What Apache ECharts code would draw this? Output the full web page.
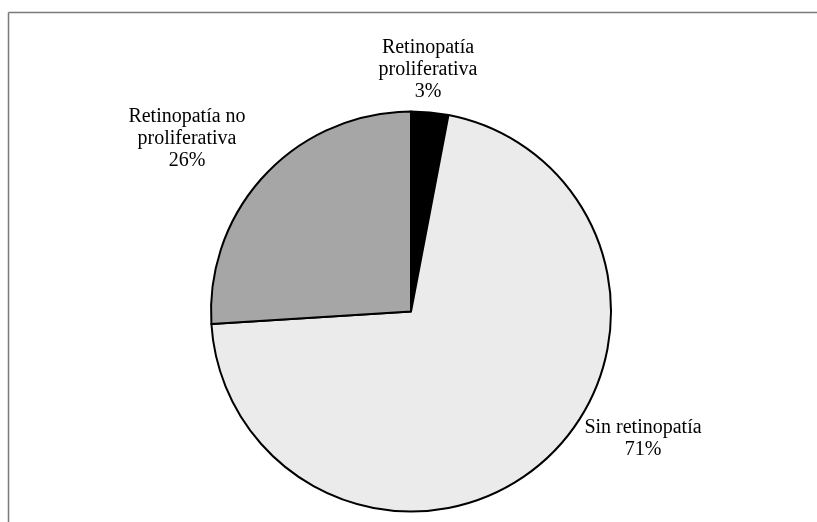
<!DOCTYPE html>
<html>
<head>
<meta charset="utf-8">
<script src="https://cdn.jsdelivr.net/npm/echarts@6/dist/echarts.min.js"></script>
<style>
  html, body { margin: 0; padding: 0; background: #fff; }
  #chart { width: 817px; height: 522px; }
</style>
</head>
<body>
<div id="chart"></div>
<script>
// Distribution of retinopathy (percent of patients)
const categories = ['Retinopatía\nproliferativa', 'Sin retinopatía', 'Retinopatía no\nproliferativa'];
const percents = [3, 71, 26];

// Slice fills, in the same order as the categories
const sliceColors = ['#000000', '#ebebeb', '#a6a6a6'];
// Label anchors (pixel centres of each text block)
const labelAnchors = [[428, 70], [643, 439], [187, 139]];

const chart = echarts.init(document.getElementById('chart'), null, { renderer: 'canvas' });

chart.setOption({
  animation: false,
  backgroundColor: '#ffffff',
  graphic: [
    { type: 'line', shape: { x1: 8.5, y1: 12.5, x2: 817, y2: 12.5 }, style: { stroke: '#7a7a7a', lineWidth: 1.5 } },
    { type: 'line', shape: { x1: 8.5, y1: 12.5, x2: 8.5, y2: 522 }, style: { stroke: '#7a7a7a', lineWidth: 1.5 } }
  ],
  series: [{
    type: 'pie',
    center: [411, 311.5],
    radius: 200,
    startAngle: 90,
    clockwise: true,
    avoidLabelOverlap: false,
    itemStyle: { borderColor: '#000', borderWidth: 2 },
    label: {
      show: true,
      position: 'outside',
      formatter: p => p.name + '\n' + p.value + '%',
      fontFamily: '"Liberation Serif", "DejaVu Serif", serif',
      fontSize: 20,
      lineHeight: 22,
      color: '#000',
      align: 'center',
      verticalAlign: 'middle'
    },
    labelLine: { show: false },
    labelLayout: params => ({
      x: labelAnchors[params.dataIndex][0],
      y: labelAnchors[params.dataIndex][1],
      align: 'center',
      verticalAlign: 'middle'
    }),
    emphasis: { disabled: true },
    data: categories.map((name, i) => ({
      name: name,
      value: percents[i],
      itemStyle: { color: sliceColors[i] }
    }))
  }]
});
</script>
</body>
</html>
